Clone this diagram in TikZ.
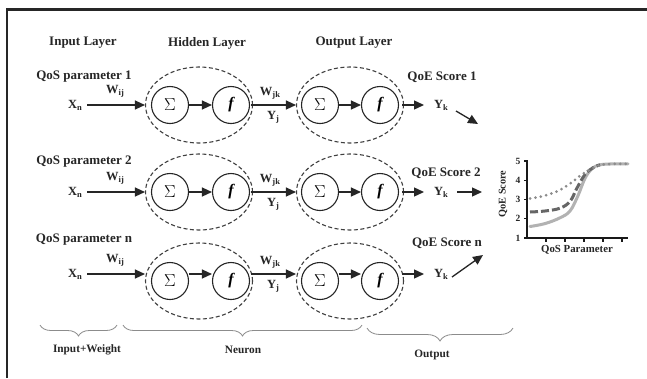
\documentclass[tikz,border=0pt]{standalone}
\usepackage{fontspec}
\setmainfont{Liberation Serif}
\usetikzlibrary{arrows.meta,decorations.pathreplacing,shapes.geometric,calc}
\newcommand\sbs[1]{\raisebox{-0.35ex}{\fontsize{8.5}{9}\selectfont #1}}
\begin{document}
\begin{tikzpicture}[x=1pt,y=-1pt,
  lbl/.style={font=\fontsize{13}{15}\selectfont\bfseries, inner sep=0pt, text=black!85},
  small/.style={font=\fontsize{11.3}{13}\selectfont\bfseries, inner sep=0pt, text=black!85},
  var/.style={font=\fontsize{12.5}{14}\selectfont\bfseries, inner sep=0pt, text=black!85},
  neu/.style={circle, draw=black!85, line width=1.1pt, minimum size=37pt, inner sep=0pt},
  layer/.style={ellipse, draw=black!75, dash pattern=on 4pt off 2.5pt, line width=1.1pt, minimum width=107pt, minimum height=76pt, inner sep=0pt},
  arr/.style={-{Triangle[length=10pt,width=9pt]}, line width=1.3pt, draw=black!85, fill=black!85},
  brc/.style={decorate, decoration={brace, mirror, amplitude=#1}, draw=black!45, line width=0.8pt},
  tk/.style={font=\fontsize{9.5}{10}\selectfont\bfseries, inner sep=0pt, text=black!85},
]
\useasboundingbox (0,0) rectangle (647,378);
\fill[white] (0,0) rectangle (647,378);
\draw[line width=2.2pt, black!85] (7,378) -- (7,9.5) -- (647,9.5);

% headers
\node[lbl] (hin) at (83,43) {Input Layer};
\node[lbl] (hhid) at (207,43) {Hidden Layer};
\node[lbl] (hout) at (354,43) {Output Layer};

% rows
\foreach \r/\yc/\ya/\lab/\sc/\ly/\qy/\qx in {1/105/105/1/1/77/77/442, 2/192/192/2/2/162/173/446, 3/281/274/n/n/240/243/447} {
  \node[lbl] (qos\r) at (84,\ly) {QoS parameter \lab};
  \node[layer] (eh\r) at (199,\yc) {};
  \node[layer] (eo\r) at (350,\yc) {};
  \node[neu] (s\r) at (170,\yc) {\fontsize{17}{17}\selectfont$\Sigma$};
  \node[neu] (f\r) at (231,\yc) {\fontsize{16}{16}\selectfont\bfseries\itshape f};
  \node[neu] (ss\r) at (320,\yc) {\fontsize{17}{17}\selectfont$\Sigma$};
  \node[neu] (ff\r) at (380,\yc) {\fontsize{16}{16}\selectfont\bfseries\itshape f};
  \coordinate (in\r) at (87,\ya);
  \node[var, anchor=east] (x\r) at (82,\ya) {X\sbs{n}};
  \node[var] (w\r) at (115,\ya-14) {W\sbs{ij}};
  \draw[arr] (in\r) -- (in\r -| eh\r.west);
  \coordinate (sa\r) at (s\r.east |- in\r);
  \coordinate (fa\r) at (f\r.west |- in\r);
  \draw[arr] (sa\r) -- (fa\r);
  \coordinate (fb\r) at ($(f\r.east |- in\r)+(1,0)$);
  \draw[arr] (fb\r) -- (fb\r -| eo\r.west);
  \node[var] (wjk\r) at (270,\ya-12) {W\sbs{jk}};
  \node[var] (yj\r) at (273,\ya+12) {Y\sbs{j}};
  \coordinate (ssa\r) at (ss\r.east |- in\r);
  \coordinate (ffa\r) at (ff\r.west |- in\r);
  \draw[arr] (ssa\r) -- (ffa\r);
  \coordinate (ob\r) at ($(ff\r.east |- in\r)+(3,0)$);
  \coordinate (oe\r) at (424,\ya);
  \draw[arr] (ob\r) -- (oe\r);
  \node[var] (yk\r) at (441,\ya) {Y\sbs{k}};
  \node[lbl] (qoe\r) at (\qx,\qy) {QoE Score \sc};
}
% arrows to chart
\coordinate (d1a) at (456,111);
\coordinate (d1b) at (478,124);
\draw[arr] (d1a) -- (d1b);
\coordinate (d2a) at (457,192);
\coordinate (d2b) at (482,192);
\draw[arr] (d2a) -- (d2b);
\coordinate (d3a) at (452,277);
\coordinate (d3b) at (483,255);
\draw[arr] (d3a) -- (d3b);

% chart
\draw[line width=3pt, black!30, line cap=round] plot[smooth, tension=0.6] coordinates {(530,226.5) (545,223.6) (560,217.8) (570,211) (578,195.6) (585,178.3) (592,168.7) (600,164.8) (614,163.9) (628,163.9)};
\draw[line width=3pt, black!60, dash pattern=on 8pt off 3pt] plot[smooth, tension=0.6] coordinates {(530,212) (545,211) (560,208.2) (570,201.4) (577,188) (585,174.4) (593,167.7) (600,164.8)};
\draw[line width=3pt, black!45, dash pattern=on 0pt off 5.5pt, line cap=round] plot[smooth, tension=0.6] coordinates {(530,198.5) (545,195.6) (560,189.9) (572,182.2) (582,174.4) (592,168.7) (600,164.8) (614,163.9) (628,163.9)};
\coordinate (ax0) at (527,238);
\coordinate (axy) at (527,160);
\coordinate (axx) at (628,238);
\draw[line width=1.8pt, black!90] (axy) -- (ax0) -- (axx);
\foreach \i in {1,...,5} {
  \draw[line width=1.3pt, black!90] (527+19*\i,238) -- (527+19*\i,242);
}
\foreach \v in {1,...,5} {
  \draw[line width=1.1pt, black!90] (527,238-19.25*\v+19.25) -- (524,238-19.25*\v+19.25);
  \node[tk] (t\v) at (518,238-19.25*\v+19.25) {\v};
}
\node[tk, rotate=90, font=\fontsize{10.3}{11}\selectfont\bfseries] (ylab) at (503,194) {QoE Score};
\node[tk, font=\fontsize{10.8}{11}\selectfont\bfseries] (xlab) at (577,250) {QoS Parameter};

% braces
\draw[brc=11pt] (40,325) -- (117,325);
\draw[brc=11pt] (123,325) -- (362,325);
\draw[brc=13pt] (367,328) -- (513,328);
\node[small] (bin) at (87,350) {Input+Weight};
\node[small] (bneu) at (243,350) {Neuron};
\node[small] (bout) at (432,355) {Output};
\end{tikzpicture}
\end{document}
